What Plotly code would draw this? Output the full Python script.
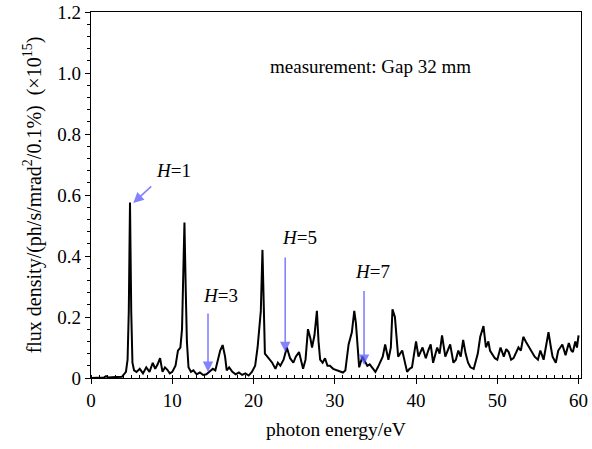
import plotly.graph_objects as go

# photon energy (eV) and flux density (x1e15)
energy = [0.0, 1.0, 1.6, 1.85, 2.1, 3.0, 3.8, 4.3, 4.5, 4.65, 4.8, 4.95, 5.1, 5.3,
          5.6, 6.0, 6.4, 6.8, 7.2, 7.6, 7.9, 8.2, 8.5, 8.8, 9.1, 9.4, 9.7, 10.0,
          10.4, 10.7, 11.0, 11.2, 11.35, 11.5, 11.65, 11.8, 12.0, 12.3, 12.6, 13.0,
          13.4, 13.8, 14.2, 14.6, 15.0, 15.3, 15.6, 15.9, 16.2, 16.5, 16.7, 17.0,
          17.4, 17.8, 18.2, 18.6, 19.0, 19.4, 19.8, 20.2, 20.5, 20.7, 20.9, 21.1,
          21.25, 21.4, 21.7, 22.0, 22.3, 22.7, 23.0, 23.3, 23.7, 24.1, 24.5, 24.9,
          25.2, 25.6, 26.1, 26.4, 26.7, 27.0, 27.2, 27.5, 27.8, 28.0, 28.2, 28.5,
          28.8, 29.1, 29.4, 29.8, 30.3, 30.7, 31.0, 31.3, 31.7, 32.1, 32.4, 32.6,
          32.8, 33.0, 33.4, 33.7, 34.0, 34.3, 34.6, 35.0, 35.3, 35.6, 35.9, 36.2,
          36.6, 36.9, 37.1, 37.4, 37.8, 38.3, 38.6, 38.9, 39.2, 39.5, 40.0, 40.3,
          40.8, 41.2, 41.5, 41.8, 42.1, 42.6, 42.9, 43.2, 43.6, 43.9, 44.2, 44.6,
          44.9, 45.2, 45.5, 45.8, 46.1, 46.4, 46.7, 47.1, 47.4, 47.6, 47.9, 48.3,
          48.6, 48.9, 49.1, 49.4, 49.7, 50.0, 50.4, 50.8, 51.1, 51.4, 51.7, 52.0,
          52.3, 52.6, 52.9, 53.2, 53.5, 53.7, 54.0, 54.3, 54.6, 55.0, 55.3, 55.7,
          56.0, 56.3, 56.6, 56.8, 57.2, 57.5, 58.0, 58.4, 58.8, 59.1, 59.3, 59.6,
          59.8, 60.0]
flux = [0.0, 0.0, 0.002, 0.006, 0.002, 0.003, 0.004, 0.02, 0.06, 0.22, 0.575, 0.22, 0.05, 0.025,
        0.02, 0.03, 0.015, 0.035, 0.02, 0.05, 0.03, 0.045, 0.065, 0.02, 0.035, 0.027, 0.015, 0.02,
        0.04, 0.09, 0.1, 0.16, 0.32, 0.51, 0.3, 0.12, 0.035, 0.02, 0.025, 0.012,
        0.018, 0.01, 0.012, 0.02, 0.03, 0.025, 0.06, 0.09, 0.108, 0.07, 0.025, 0.035,
        0.02, 0.012, 0.018, 0.01, 0.015, 0.008, 0.02, 0.04, 0.1, 0.15, 0.22, 0.42,
        0.25, 0.08, 0.07, 0.06, 0.05, 0.03, 0.05, 0.04, 0.06, 0.1, 0.065, 0.05,
        0.07, 0.085, 0.03, 0.06, 0.16, 0.13, 0.1, 0.14, 0.22, 0.12, 0.06, 0.05,
        0.065, 0.04, 0.04, 0.03, 0.025, 0.02, 0.018, 0.025, 0.11, 0.15, 0.22, 0.18,
        0.12, 0.035, 0.07, 0.055, 0.04, 0.045, 0.035, 0.02, 0.035, 0.05, 0.07, 0.11,
        0.06, 0.1, 0.225, 0.2, 0.07, 0.09, 0.05, 0.02, 0.03, 0.035, 0.12, 0.07,
        0.1, 0.065, 0.09, 0.11, 0.05, 0.1, 0.08, 0.14, 0.07, 0.09, 0.11, 0.05,
        0.06, 0.09, 0.07, 0.125, 0.08, 0.05, 0.035, 0.03, 0.06, 0.08, 0.135, 0.17,
        0.1, 0.12, 0.09, 0.075, 0.065, 0.06, 0.1, 0.07, 0.095, 0.085, 0.06, 0.065,
        0.08, 0.1, 0.09, 0.135, 0.12, 0.11, 0.1, 0.08, 0.07, 0.06, 0.09, 0.06,
        0.1, 0.15, 0.1, 0.07, 0.05, 0.09, 0.11, 0.075, 0.115, 0.09, 0.085, 0.12,
        0.1, 0.14]

# harmonic markers: label, arrow head (x, y), arrow tail (x, y), label position
harmonics = ["1", "3", "5", "7"]
head_x = [5.2, 14.4, 23.9, 33.6]
head_y = [0.574, 0.02, 0.085, 0.043]
tail_x = [7.6, 14.4, 23.9, 33.6]
tail_y = [0.633, 0.216, 0.40, 0.29]
label_x = [10.2, 15.9, 25.7, 34.7]
label_y = [0.68, 0.27, 0.46, 0.35]

serif = "Liberation Serif"

fig = go.Figure()
fig.add_trace(go.Scatter(x=energy, y=flux, mode="lines",
                         line=dict(color="black", width=2), showlegend=False))

for h, hx, hy, tx, ty, lx, ly in zip(harmonics, head_x, head_y, tail_x, tail_y, label_x, label_y):
    fig.add_annotation(x=hx, y=hy, ax=tx, ay=ty, xref="x", yref="y", axref="x", ayref="y",
                       text="", showarrow=True, arrowhead=2, arrowsize=1.3, arrowwidth=1.6,
                       arrowcolor="rgba(90,90,255,0.75)")
    fig.add_annotation(x=lx, y=ly, xref="x", yref="y", showarrow=False,
                       text="<i>H</i>=" + h, font=dict(family=serif, size=19, color="black"))

fig.add_annotation(x=34.4, y=1.02, xref="x", yref="y", showarrow=False,
                   text="measurement: Gap 32 mm", font=dict(family=serif, size=19, color="black"))

fig.update_layout(
    width=592, height=449,
    margin=dict(l=91, r=11, t=12, b=71),
    paper_bgcolor="white", plot_bgcolor="white",
    font=dict(family=serif, size=19, color="black"),
    xaxis=dict(range=[0, 60.3], dtick=10, tick0=0, showgrid=False, zeroline=False,
               automargin=False,
               showline=True, linecolor="black", linewidth=1.2, mirror=True,
               ticks="outside", ticklen=5, tickcolor="black",
               minor=dict(dtick=1, ticks="inside", ticklen=3, tickcolor="black"),
               title=dict(text="photon energy/eV", font=dict(size=19.5), standoff=12)),
    yaxis=dict(range=[0, 1.2], dtick=0.2, showgrid=False, zeroline=False,
               automargin=False,
               showline=True, linecolor="black", linewidth=1.2, mirror=True,
               ticks="outside", ticklen=5, tickcolor="black",
               tickformat=".1f",
               minor=dict(dtick=0.04, ticks="outside", ticklen=3, tickcolor="black"),
               title=dict(text="flux density/(ph/s/mrad<sup>2</sup>/0.1%)  (×10<sup>15</sup>)",
                          font=dict(size=20), standoff=10)),
)
fig.update_yaxes(labelalias={"0.0": "0"})

# the page body has an 8px default margin; drop it so the figure sits at the corner
fig.write_html("out.html", config={"displayModeBar": False},
               post_script="document.body.style.margin='0';")
